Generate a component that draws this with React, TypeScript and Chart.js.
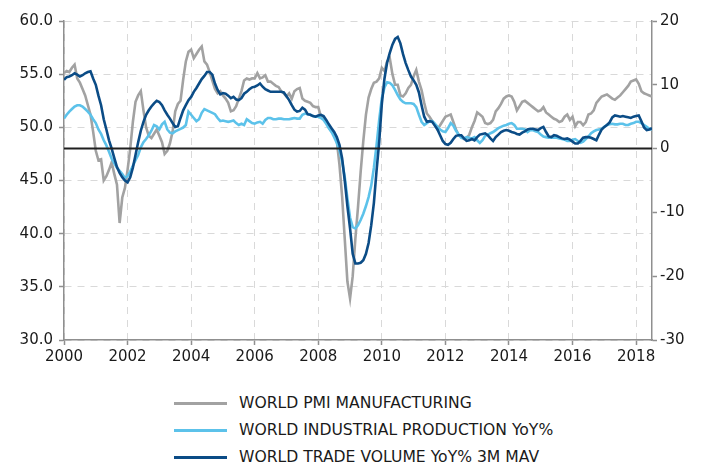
import React, { useEffect, useRef } from "react";
import { Chart, registerables } from "chart.js";

Chart.register(...registerables);

// ---- Data (monthly, Jan 2000 .. Jul 2018) ----
const START_YEAR = 2000;
const X_MAX = 2018.5;
const X_TICKS = [2000, 2002, 2004, 2006, 2008, 2010, 2012, 2014, 2016, 2018];
const LEFT_MIN = 30;
const LEFT_MAX = 60;
const LEFT_STEP = 5;
const RIGHT_MIN = -30;
const RIGHT_MAX = 20;
const RIGHT_STEP = 10;
const ZERO_LINE = 0;

const LABEL_PMI = "WORLD PMI MANUFACTURING";
const LABEL_IP = "WORLD INDUSTRIAL PRODUCTION YoY%";
const LABEL_TRADE = "WORLD TRADE VOLUME YoY% 3M MAV";

const PMI = [
  55.1, 55.3, 55.2, 55.6, 55.9, 54.6, 54.2, 53.6, 53.0, 52.1, 51.2, 49.6,
  47.8, 46.9, 47.0, 45.0, 45.4, 46.0, 46.7, 45.6, 44.6, 41.0, 43.4, 44.3,
  46.0, 48.0, 50.5, 52.4, 53.0, 53.4, 51.6, 50.0, 49.2, 49.0, 49.4, 49.8,
  49.2, 48.6, 47.5, 47.8, 48.5, 49.6, 51.5, 52.2, 52.5, 54.5, 56.2, 57.1,
  57.3, 56.5, 56.9, 57.3, 57.6, 56.2, 55.9, 55.2, 54.4, 53.6, 53.2, 53.4,
  53.0, 52.7, 52.3, 51.5, 51.6, 52.0, 52.7, 53.4, 54.4, 54.6, 54.5, 54.6,
  54.6, 55.1, 54.6, 54.7, 54.9, 54.3, 54.3, 54.1, 53.9, 53.8, 53.4, 53.2,
  52.9, 53.2, 52.7, 53.4, 53.6, 53.7, 52.7, 52.5, 52.4, 52.3, 52.0, 51.9,
  51.9, 51.0, 50.8, 50.6, 50.0, 49.6, 49.3, 48.7, 46.5, 43.5, 39.5, 35.5,
  33.9, 36.0, 39.5, 42.5, 45.8, 48.7, 51.2, 52.8, 53.6, 54.2, 54.3, 54.6,
  55.6, 55.3, 56.2, 56.5, 55.0, 54.0, 54.0, 53.0, 52.9, 53.2, 53.7, 54.0,
  54.8, 55.4, 54.3, 53.5, 52.3, 51.3, 51.0, 50.6, 50.3, 49.8, 50.2, 50.6,
  51.0, 51.1, 51.2, 50.5, 49.8, 49.3, 49.1, 48.9, 49.0, 49.3, 50.0, 50.6,
  51.4, 51.2, 51.0, 50.4, 50.3, 50.4, 50.7, 51.5, 51.8, 52.2, 52.7, 52.9,
  53.0, 52.9, 52.4, 51.6, 52.0, 52.4, 52.5, 52.3, 52.1, 51.9, 51.7, 51.5,
  51.6, 51.9, 51.4, 51.2, 51.0, 50.8, 50.7, 50.5, 50.6, 51.0, 51.2, 50.7,
  51.0, 50.1, 50.5, 50.5, 50.2, 50.5, 51.2, 51.3, 51.6, 52.3, 52.6, 52.9,
  53.0, 53.1, 52.9, 52.7, 52.6, 52.8, 53.0, 53.3, 53.6, 53.9, 54.3, 54.4,
  54.5, 54.1, 53.4, 53.2, 53.1, 53.0, 52.9,
];

const IP = [
  4.7, 5.3, 5.8, 6.2, 6.6, 6.8, 6.8, 6.6, 6.2, 5.8, 5.3, 4.6,
  4.0, 3.0, 2.3, 1.3, 0.5, -0.5, -1.6, -2.3, -3.0, -3.5, -4.0, -4.6,
  -4.3, -3.6, -2.7, -1.8, -1.0, 0.2, 1.0, 1.5, 2.1, 2.8, 3.7, 3.5,
  3.0, 3.8, 4.2, 3.0, 2.5, 2.4, 2.7, 2.9, 3.1, 3.3, 3.7, 5.8,
  5.3, 4.8, 4.3, 4.6, 5.6, 6.2, 6.0, 5.8, 5.6, 5.4, 4.8, 4.3,
  4.4, 4.3, 4.2, 4.3, 4.4, 4.0, 3.7, 3.9, 3.7, 4.6, 4.3, 4.0,
  3.9, 4.1, 4.2, 3.9, 4.5, 4.8, 4.8, 4.6, 4.6, 4.7, 4.7, 4.6,
  4.6, 4.6, 4.7, 4.8, 4.7, 4.7, 5.3, 5.5, 5.4, 5.3, 5.1, 5.0,
  5.0, 4.8, 4.5, 3.9, 3.2, 2.6, 1.8, 0.9, -0.3, -2.0, -4.5, -7.8,
  -10.8, -12.3, -12.5, -12.0, -11.2, -10.2, -9.0, -7.6, -5.8, -3.0, 0.5, 4.5,
  7.9, 9.6, 10.4, 10.3, 9.9, 9.2, 8.4, 7.7, 7.3, 7.1, 7.1, 7.1,
  7.0, 6.5, 5.3, 4.2, 3.7, 4.0, 4.3, 4.3, 3.9, 3.4, 3.0, 2.7,
  2.6, 3.2, 4.0, 3.6, 2.8, 2.2, 1.7, 1.6, 1.8, 1.7, 1.6, 1.8,
  1.3, 0.9, 1.3, 2.0, 2.2, 2.4, 2.6, 2.9, 3.2, 3.4, 3.6, 3.7,
  3.9, 4.0, 3.7, 3.1, 3.1, 3.1, 3.0, 2.6, 2.9, 2.9, 2.7, 2.6,
  2.2, 1.9, 1.8, 1.7, 1.7, 1.7, 1.7, 1.6, 1.5, 1.4, 1.2, 1.2,
  1.4, 1.5, 1.2, 0.9, 1.1, 1.5, 1.9, 2.4, 2.7, 2.9, 3.0, 3.1,
  3.4, 3.7, 3.8, 3.9, 3.8, 3.8, 3.9, 3.9, 3.7, 3.7, 3.9, 4.0,
  4.2, 4.2, 4.0, 3.7, 3.4, 3.1, 3.0,
];

const TRADE = [
  10.8, 11.2, 11.3, 11.5, 11.8, 11.6, 11.3, 11.5, 11.8, 12.0, 12.1, 11.0,
  10.0, 8.3, 6.8, 4.6, 3.0, 1.3, 0.0, -1.5, -2.9, -3.8, -4.5, -5.0,
  -5.3, -4.5, -3.0, -1.0, 1.0, 2.8, 4.2, 5.3, 6.0, 6.6, 7.1, 7.5,
  7.3, 6.8, 6.0, 5.3, 4.7, 4.0, 3.4, 3.5, 4.8, 6.0, 6.8, 7.6,
  8.1, 8.9, 9.5, 10.2, 10.9, 11.4, 12.0, 12.0, 11.6, 10.2, 9.2, 8.5,
  8.7, 8.6, 8.3, 7.9, 8.1, 7.7, 7.6, 7.9, 8.6, 8.9, 9.3, 9.6,
  9.7, 9.9, 10.2, 9.7, 9.3, 9.1, 8.9, 8.9, 8.9, 8.9, 8.9, 8.8,
  8.2, 7.6, 6.8, 6.1, 5.8, 5.9, 6.4, 6.1, 5.4, 5.3, 5.1, 5.0,
  5.2, 5.3, 5.1, 4.5, 3.8, 3.2, 2.6, 1.8, 0.6, -1.5, -5.0, -9.0,
  -12.5, -16.5, -18.0, -18.0, -17.9, -17.5, -16.5, -14.8, -12.0, -8.5, -3.5, 1.0,
  7.0, 11.0, 13.5, 15.0, 16.3, 17.2, 17.5, 16.5, 14.8, 13.4, 12.3, 11.3,
  10.7, 10.0, 8.8, 6.8, 5.0, 4.2, 4.3, 4.2, 3.6, 3.0, 2.1, 1.2,
  0.7, 0.6, 0.9, 1.5, 2.0, 2.1, 2.1, 1.6, 1.2, 1.3, 1.5, 1.3,
  1.8, 2.2, 2.3, 2.4, 2.1, 1.6, 1.2, 1.8, 2.2, 2.6, 2.8, 2.9,
  2.8, 2.6, 2.5, 2.3, 2.2, 2.5, 2.7, 3.0, 3.1, 3.1, 3.0, 2.9,
  3.2, 3.4, 2.6, 1.9, 1.8, 2.1, 2.0, 1.8, 1.6, 1.5, 1.6, 1.4,
  1.1, 0.8, 0.8, 1.2, 1.7, 1.8, 1.8, 1.7, 1.5, 1.3, 2.2, 3.0,
  3.4, 3.7, 4.1, 4.9, 5.2, 5.1, 5.0, 5.1, 5.0, 4.9, 4.8, 5.0,
  5.1, 5.2, 4.3, 3.3, 2.9, 3.0, 3.2,
];

// month positions (fractional years)
const MONTHS = PMI.map((_, i) => START_YEAR + i / 12);

const COLOR_PMI = "#a2a2a2";
const COLOR_IP = "#5cc2ea";
const COLOR_TRADE = "#0b4c86";
const AXIS_COLOR = "#8f8f8f";
const GRID_COLOR = "#d9d9d9";
const TEXT_COLOR = "#1a1a1a";
const FONT = "'DejaVu Sans', Verdana, sans-serif";

const W = 706;
const CANVAS_H = 378;

const toPts = (arr: number[]) => arr.map((v, i) => ({ x: MONTHS[i], y: v }));

export default function App() {
  const ref = useRef<HTMLCanvasElement | null>(null);

  useEffect(() => {
    if (!ref.current) return;
    const tickFont = { family: FONT, size: 15 };
    const chart = new Chart(ref.current, {
      type: "line",
      data: {
        datasets: [
          {
            label: "zero",
            data: [
              { x: START_YEAR, y: ZERO_LINE },
              { x: X_MAX, y: ZERO_LINE },
            ],
            yAxisID: "y1",
            borderColor: "#1f1f1f",
            borderWidth: 2,
            pointRadius: 0,
            order: 0,
          },
          {
            label: LABEL_TRADE,
            data: toPts(TRADE),
            yAxisID: "y1",
            borderColor: COLOR_TRADE,
            borderWidth: 2.6,
            pointRadius: 0,
            tension: 0,
            order: 1,
          },
          {
            label: LABEL_IP,
            data: toPts(IP),
            yAxisID: "y1",
            borderColor: COLOR_IP,
            borderWidth: 2.6,
            pointRadius: 0,
            tension: 0,
            order: 2,
          },
          {
            label: LABEL_PMI,
            data: toPts(PMI),
            yAxisID: "y",
            borderColor: COLOR_PMI,
            borderWidth: 2.6,
            pointRadius: 0,
            tension: 0,
            order: 3,
          },
        ],
      },
      options: {
        animation: false,
        responsive: false,
        maintainAspectRatio: false,
        layout: { padding: { top: 21, left: 0, right: 0, bottom: 0 } },
        plugins: {
          legend: { display: false },
          tooltip: { enabled: false },
        },
        scales: {
          x: {
            type: "linear",
            min: START_YEAR,
            max: X_MAX,
            afterBuildTicks: (s: any) => {
              s.ticks = X_TICKS.map((v) => ({ value: v }));
            },
            afterFit: (s: any) => {
              s.height = CANVAS_H - 340;
            },
            ticks: {
              callback: (v: any) => String(v),
              font: tickFont,
              color: TEXT_COLOR,
              padding: 3,
              maxRotation: 0,
              autoSkip: false,
            },
            grid: {
              color: GRID_COLOR,
              lineWidth: 1,
              tickColor: AXIS_COLOR,
              tickLength: 5,
              tickWidth: 1.5,
              tickBorderDash: [],
            },
            border: { color: AXIS_COLOR, width: 1.5, dash: [7, 6] },
          },
          y: {
            type: "linear",
            position: "left",
            min: LEFT_MIN,
            max: LEFT_MAX,
            afterFit: (s: any) => {
              s.width = 64;
            },
            ticks: {
              stepSize: LEFT_STEP,
              callback: (v: any) => Number(v).toFixed(1),
              font: tickFont,
              color: TEXT_COLOR,
              padding: 6,
            },
            grid: {
              color: GRID_COLOR,
              lineWidth: 1,
              tickColor: AXIS_COLOR,
              tickLength: 5,
              tickWidth: 1.5,
              tickBorderDash: [],
            },
            border: { color: AXIS_COLOR, width: 1.5, dash: [7, 6] },
          },
          y1: {
            type: "linear",
            position: "right",
            min: RIGHT_MIN,
            max: RIGHT_MAX,
            afterFit: (s: any) => {
              s.width = W - 652;
            },
            ticks: {
              stepSize: RIGHT_STEP,
              callback: (v: any) => String(v),
              font: tickFont,
              color: TEXT_COLOR,
              padding: 3,
            },
            grid: {
              drawOnChartArea: false,
              tickColor: AXIS_COLOR,
              tickLength: 5,
              tickWidth: 1.5,
              tickBorderDash: [],
            },
            border: { color: AXIS_COLOR, width: 1.5 },
          },
        },
      },
    } as any);
    return () => chart.destroy();
  }, []);

  const legendItems = [
    { label: LABEL_PMI, color: COLOR_PMI, y: 403 },
    { label: LABEL_IP, color: COLOR_IP, y: 430 },
    { label: LABEL_TRADE, color: COLOR_TRADE, y: 457 },
  ];

  return (
    <div
      style={{
        position: "absolute",
        left: 0,
        top: 0,
        width: W,
        height: 463,
        background: "#fff",
        overflow: "hidden",
      }}
    >
      <canvas
        ref={ref}
        width={W}
        height={CANVAS_H}
        style={{ position: "absolute", left: 0, top: 0, width: W, height: CANVAS_H }}
      />
      {legendItems.map((it) => (
        <React.Fragment key={it.label}>
          <div
            style={{
              position: "absolute",
              left: 174,
              top: it.y - 1.5,
              width: 53,
              height: 3,
              background: it.color,
            }}
          />
          <div
            style={{
              position: "absolute",
              left: 239,
              top: it.y - 10,
              height: 20,
              lineHeight: "20px",
              fontFamily: FONT,
              fontSize: 15.6,
              color: TEXT_COLOR,
              whiteSpace: "nowrap",
            }}
          >
            {it.label}
          </div>
        </React.Fragment>
      ))}
    </div>
  );
}
